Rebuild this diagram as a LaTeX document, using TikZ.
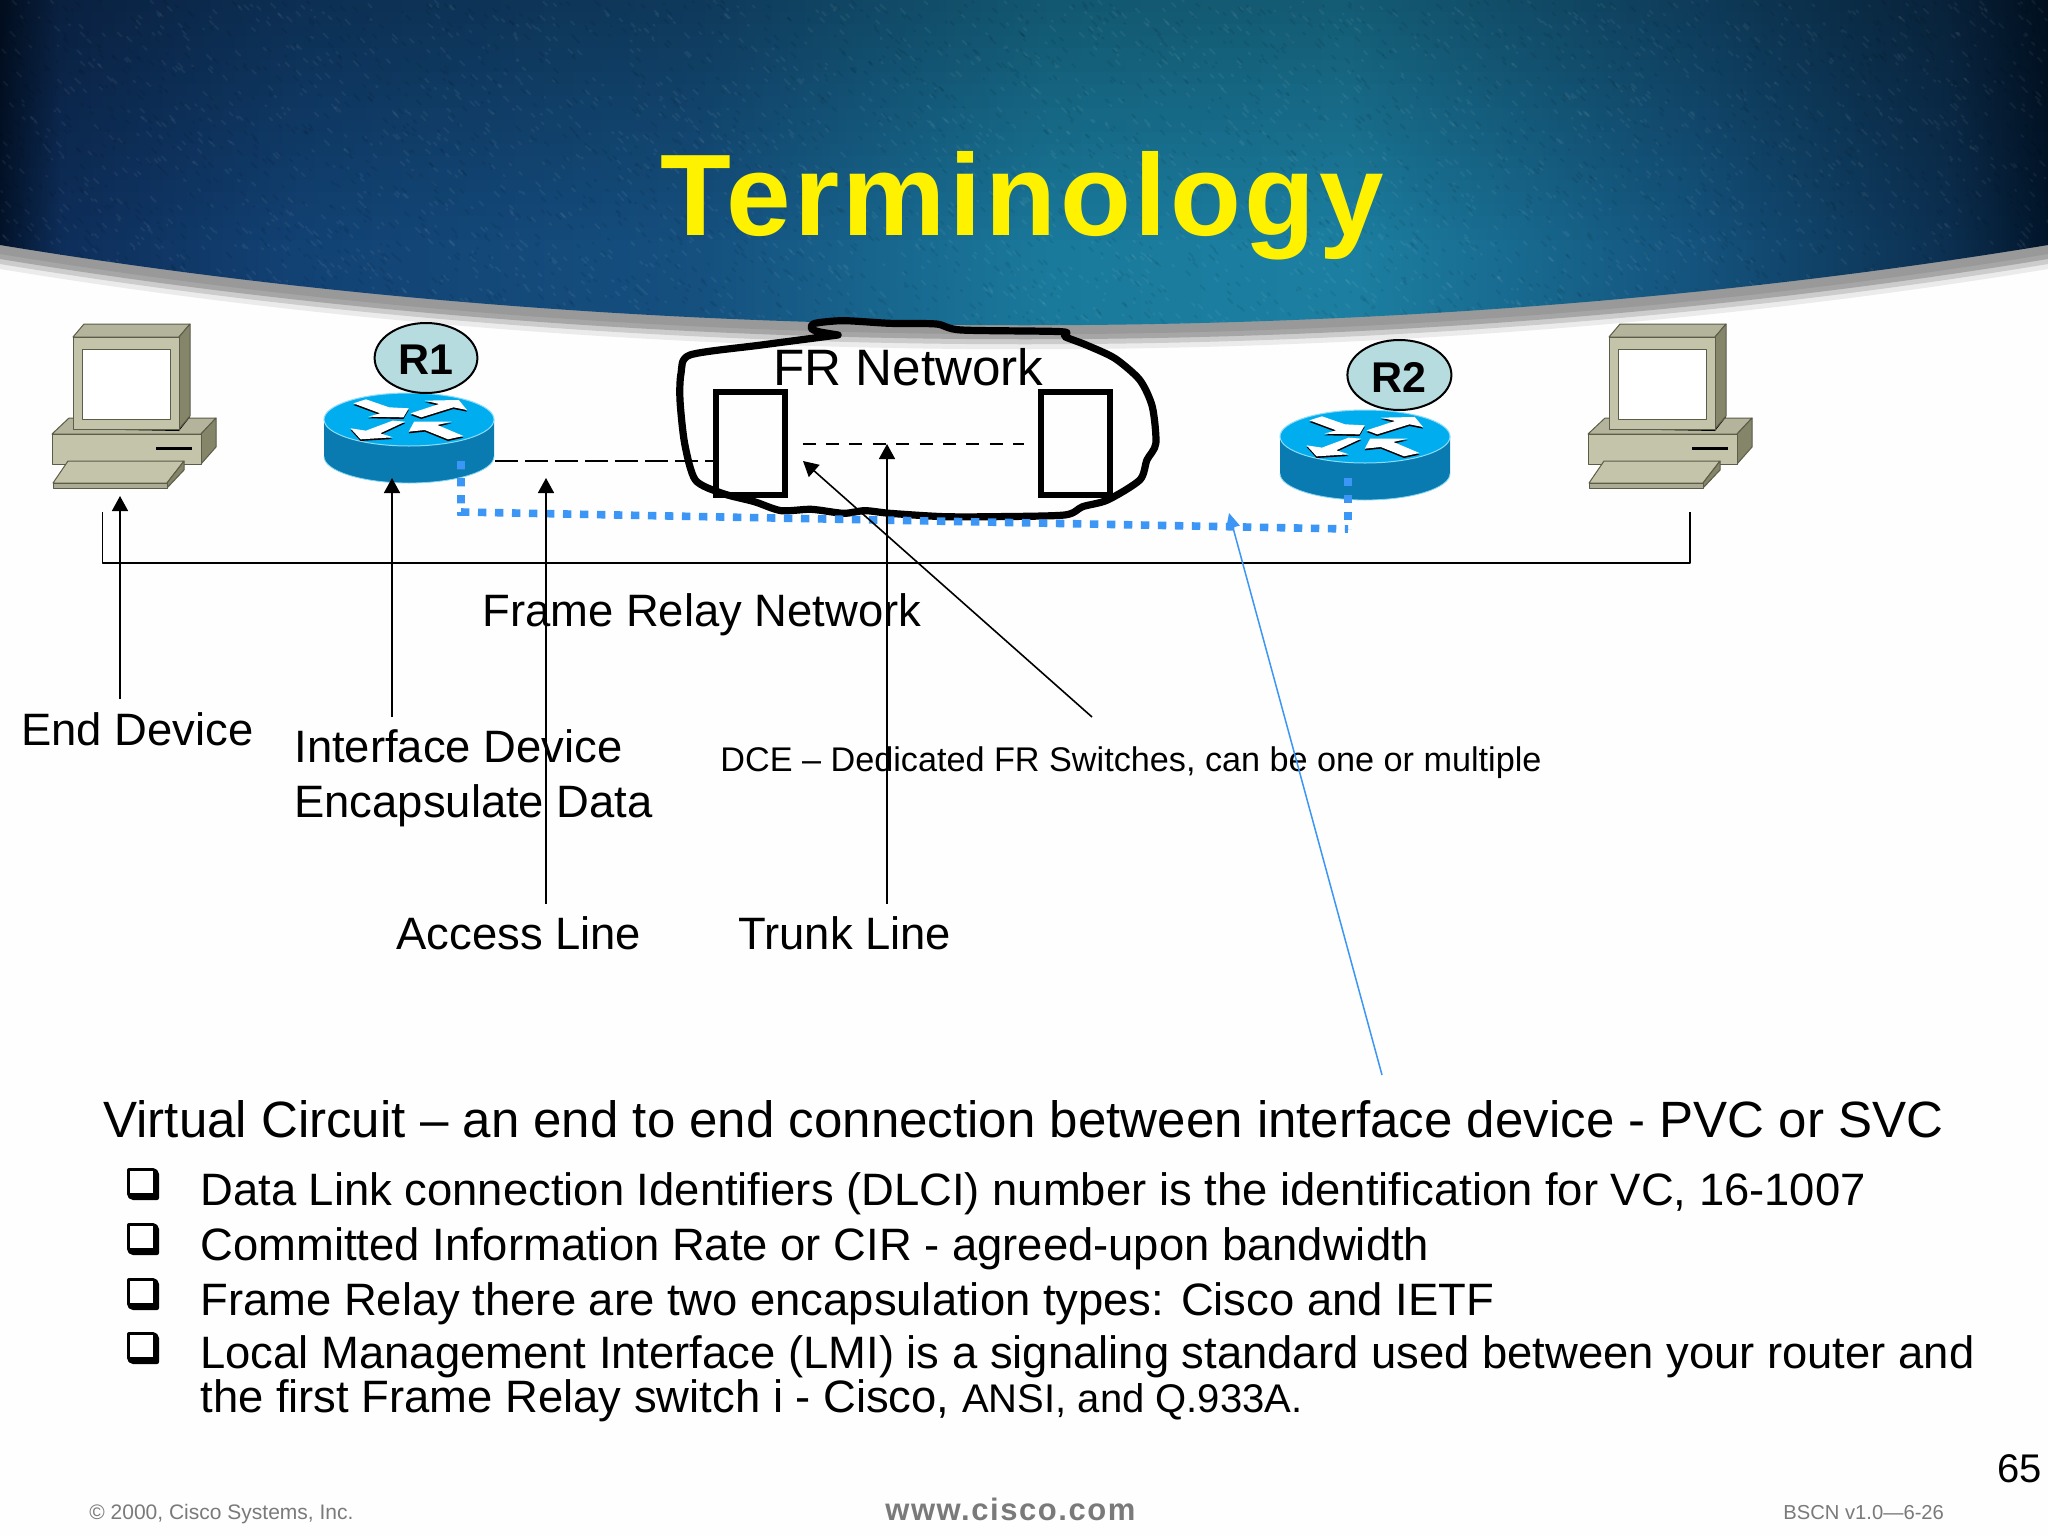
\documentclass[tikz,border=0pt]{standalone}
\usepackage{fontspec}
\setmainfont{Liberation Sans}
\usetikzlibrary{arrows.meta}
\definecolor{blueline}{HTML}{3B96F5}
\definecolor{pcbody}{HTML}{C4C4AA}
\definecolor{pcside}{HTML}{85856A}
\definecolor{pcedge}{HTML}{5C5C48}
\definecolor{rtop}{HTML}{00AEEF}
\definecolor{rside}{HTML}{0A7BB0}
\definecolor{tagfill}{HTML}{B7DCE0}
\definecolor{h0}{HTML}{03132A}
\definecolor{h1}{HTML}{0E2E5A}
\definecolor{h2}{HTML}{124274}
\definecolor{h3}{HTML}{15507F}
\definecolor{h4}{HTML}{1A7A9C}
\definecolor{h5}{HTML}{1C7FA1}
\definecolor{h6}{HTML}{14527C}
\definecolor{h7}{HTML}{0C2F50}
\definecolor{h8}{HTML}{02152A}
\newcommand\fs[1]{\fontsize{#1}{#1}\selectfont}
\tikzset{
 x=.5pt,y=-.5pt,
 txt/.style={inner sep=0pt,anchor=base west,align=left,text=black},
 label/.style={txt,font=\fs{22.7}},
 bullettext/.style={txt,font=\fs{22.7}},
 foot/.style={txt,text=black!52},
 thinarrow/.style={line width=.8pt,-{Triangle[length=7.5pt,width=8pt]}},
 bluearrow/.style={line width=.75pt,blueline,-{Triangle[length=7.5pt,width=7pt]}},
 dotline/.style={blueline,line width=3.8pt,dash pattern=on 4.2pt off 4.3pt},
 bracket/.style={line width=.85pt,line join=round},
 dashA/.style={line width=.85pt,dash pattern=on 11.5pt off 3.5pt},
 dashB/.style={line width=.75pt,dash pattern=on 6.5pt off 5.2pt},
 switchbox/.style={draw,line width=3pt},
}
\newcommand\pcdraw[1]{%
\begin{scope}[shift={(#1,0)},draw=pcedge,line width=.5pt,line join=round]
 \filldraw[fill=pcbody!92!black] (52,434)--(69,418)--(216,418)--(201,434)--cycle;
 \filldraw[fill=pcside] (201,434)--(216,418)--(216,447)--(201,464)--cycle;
 \filldraw[fill=pcbody] (52,434) rectangle (201,464);
 \draw[black,line width=1.5pt] (156,448)--(192,448);
 \fill[black] (73,429)--(179,431)--(190,417)--(179,417)--cycle;
 \filldraw[fill=pcbody!92!black] (73,337)--(84,324)--(190,324)--(179,337)--cycle;
 \filldraw[fill=pcside] (179,337)--(190,324)--(190,416)--(179,429)--cycle;
 \filldraw[fill=pcbody] (73,337) rectangle (179,429);
 \filldraw[fill=white] (82.5,349) rectangle (170,419);
 \filldraw[fill=pcbody] (68,461)--(184,461)--(167,483)--(53,483)--cycle;
 \filldraw[fill=pcside] (184,461)--(184,470)--(167,488)--(167,483)--cycle;
 \filldraw[fill=pcbody!88!black] (53,483) rectangle (167,488);
\end{scope}}
\newcommand\routerdraw[2]{%
\begin{scope}[shift={(#1,#2)}]
 \fill[rside] (324,419.5)--(324,456.5)
   .. controls (324,471) and (362,483) .. (409,483)
   .. controls (456,483) and (494,471) .. (494,456.5)--(494,419.5)--cycle;
 \draw[rtop!50!white,line width=.4pt] (324,456.5)
   .. controls (324,471) and (362,483) .. (409,483)
   .. controls (456,483) and (494,471) .. (494,456.5);
 \filldraw[fill=rtop,draw=rtop!45!white,line width=.5pt] (409,419.5) ellipse [x radius=85,y radius=26.5];
 \begin{scope}[shift={(0,300)},xscale=.357,yscale=.3333]
  \foreach \c/\d in {black/-5,white/0}{
  \fill[\c,yshift=\d*.5pt] (990,310)--(1025,298)--(1090,322)--(1145,325)--(1130,352)--(1032,350)--(1065,340)--cycle;
  \fill[\c,yshift=\d*.5pt] (1150,340)--(1230,312)--(1190,302)--(1285,300)--(1308,330)--(1270,322)--(1180,352)--cycle;
  \fill[\c,yshift=\d*.5pt] (1135,365)--(1065,400)--(1100,412)--(1010,418)--(982,385)--(1025,392)--(1100,362)--cycle;
  \fill[\c,yshift=\d*.5pt] (1298,408)--(1255,418)--(1190,390)--(1145,395)--(1160,365)--(1265,365)--(1225,375)--cycle;
  }
 \end{scope}
\end{scope}}
\newcommand\tickbox[1]{%
 \begin{scope}[shift={(0,#1)}]
  \fill[black,rounded corners=1pt] (127,1168)--(155,1168)--(159,1172)--(159,1200)--(131,1200)--(127,1196)--cycle;
  \fill[white] (129.5,1170.5) rectangle (153,1193);
 \end{scope}}
\begin{document}
\begin{tikzpicture}
\useasboundingbox (0,0) rectangle (2048,1536);
\fill[white!99.5!black] (0,0) rectangle (2048,1536);
% header
\foreach \d/\c in {24/black!8,19/black!20,14/black!35,9/black!40}{
 \fill[\c] (0,0)--(0,245+\d) .. controls (650,352+\d) and (1400,352+\d) .. (2048,245+\d)--(2048,0)--cycle;}
\begin{scope}
 \clip (0,0)--(0,245) .. controls (650,352) and (1400,352) .. (2048,245)--(2048,0)--cycle;
 \foreach \xa/\ca/\xb/\cb in {0/h0/60/h1,60/h1/300/h2,300/h2/700/h3,700/h3/1050/h4,1050/h4/1350/h5,1350/h5/1700/h6,1700/h6/1950/h7,1950/h7/2048/h8}{
  \shade[left color=\ca,right color=\cb,shading angle=90] (\xa,0) rectangle (\xb+1,360);}
 \foreach \i in {0,...,19}{
  \pgfmathsetmacro\op{.28*(1-\i/20)}
  \fill[black,opacity=\op] (0,\i*12) rectangle (2048,\i*12+12);}
 \pgfmathsetseed{42}
 \begin{scope}[line width=1pt,line cap=round]
 \foreach \i in {1,...,2600}{
  \pgfmathsetmacro\px{rnd*2048}\pgfmathsetmacro\py{rnd*340}\pgfmathsetmacro\ln{1+rnd*4}
  \draw[white,opacity=.05] (\px,\py)--++(\ln,\ln);
  \pgfmathsetmacro\px{rnd*2048}\pgfmathsetmacro\py{rnd*340}
  \draw[black,opacity=.07] (\px,\py)--++(\ln,\ln);}
 \end{scope}
\end{scope}
\node[txt,text=yellow,font=\fs{58}\bfseries\addfontfeature{LetterSpace=3.1}] (title) at (660,235) {Terminology};
% computers and routers
\pcdraw{0}\pcdraw{1536}
\routerdraw{0}{0}\routerdraw{956}{17}
\fill[tagfill,draw=black,line width=1pt] (426,358) ellipse [x radius=51.4,y radius=35];
\fill[tagfill,draw=black,line width=1pt] (1399.4,375) ellipse [x radius=52,y radius=35];
\node[inner sep=0pt,font=\fs{21.5}\bfseries] (r1) at (426,360) {R1};
\node[inner sep=0pt,font=\fs{21.5}\bfseries] (r2) at (1399.4,377) {R2};
% bracket
\coordinate (bl) at (102.5,512); \coordinate (bm1) at (102.5,563); \coordinate (bm2) at (1690,563); \coordinate (br) at (1690,512);
\draw[bracket] (bl)--(bm1)--(bm2)--(br);
% dashed
\coordinate (acS) at (495,461); \coordinate (acE) at (717,461);
\coordinate (trS) at (802.5,444); \coordinate (trE) at (1024,444);
\draw[dashA] (acS)--(acE);
\draw[dashB] (trS)--(trE);
% boxes
\node[switchbox,minimum width=34.5pt,minimum height=51.5pt,inner sep=0pt] (sw1) at (750.25,443.5) {};
\node[switchbox,minimum width=34.5pt,minimum height=51.5pt,inner sep=0pt] (sw2) at (1075.25,443.5) {};
% freehand loop
\begin{scope}[shift={(640,300)},xscale=.357,yscale=.3333]
\draw[line width=3.6pt,line join=round,line cap=round] plot[smooth,tension=.45] coordinates {
(555,105)(340,135)(140,165)(115,220)(112,300)(125,430)(155,540)(230,580)(320,605)(395,632)(480,628)(570,640)(630,632)(700,640)(850,650)(1000,650)(1190,645)(1240,620)(1310,600)(1400,540)(1420,480)(1445,430)(1435,320)(1400,240)(1330,175)(1250,135)(1190,110)(1180,95)(900,90)(830,72)(700,70)(570,62)(490,70)(480,85)(500,95)(555,105)};
\end{scope}
% blue dotted
\coordinate (d1) at (461,461); \coordinate (d2) at (461,512); \coordinate (d3) at (1348,529); \coordinate (d4) at (1348,478);
\draw[dotline] (d1)--(d2)--(d3);
\draw[dotline] (d4)--(d3);
% text
\node[txt,font=\fs{25.6}] (fr) at (773,385) {FR Network};
\node[label] (frn) at (482,626) {Frame Relay Network};
\node[label] (endd) at (21,745) {End Device};
\node[label] (ifd) at (294,762) {Interface Device};
\node[label] (enc) at (294,817) {Encapsulate Data};
\node[label] (acc) at (396,949) {Access Line};
\node[label] (trl) at (738,949) {Trunk Line};
\node[txt,font=\fs{17.1}] (dce) at (720,771) {DCE – Dedicated FR Switches, can be one or multiple};
\node[txt,font=\fs{25.52}] (vc) at (103,1137) {Virtual Circuit – an end to end connection between interface device - PVC or SVC};
\node[bullettext] (b1) at (200,1205) {Data Link connection Identifiers (DLCI) number is the identification for VC, 16-1007};
\node[bullettext] (b2) at (200,1260) {Committed Information Rate or CIR - agreed-upon bandwidth};
\node[bullettext] (b3) at (200,1315) {Frame Relay there are two encapsulation types: Cisco and IETF};
\node[bullettext] (b4) at (200,1368) {Local Management Interface (LMI) is a signaling standard used between your router and};
\node[bullettext] (b5) at (200,1412) {the first Frame Relay switch i - Cisco, {\fs{20}ANSI, and Q.933A.}};
\tickbox{0}\tickbox{55}\tickbox{110}\tickbox{164}
\node[txt,font=\fs{20}] (pg) at (1997,1482) {65};
\node[foot,font=\fs{10.5}] (copy) at (89,1519) {© 2000, Cisco Systems, Inc.};
\node[foot,font=\fs{15.5}\bfseries\addfontfeature{LetterSpace=5}] (www) at (885,1520) {www.cisco.com};
\node[foot,font=\fs{10.1}] (bscn) at (1783,1519) {BSCN v1.0—6-26};
% arrows
\coordinate (a1) at (120,699); \coordinate (a1t) at (120,496);
\coordinate (a2) at (392,717); \coordinate (a2t) at (392,478);
\coordinate (a3) at (546,904); \coordinate (a3t) at (546,478);
\coordinate (a4) at (887,904); \coordinate (a4t) at (887,444);
\coordinate (a5) at (1092,717); \coordinate (a5t) at (803,461);
\coordinate (a6) at (1382,1075); \coordinate (a6t) at (1229,513);
\foreach \p/\q in {a1/a1t,a2/a2t,a3/a3t,a4/a4t,a5/a5t}{\draw[thinarrow] (\p)--(\q);}
\draw[bluearrow] (a6)--(a6t);
\end{tikzpicture}
\end{document}
